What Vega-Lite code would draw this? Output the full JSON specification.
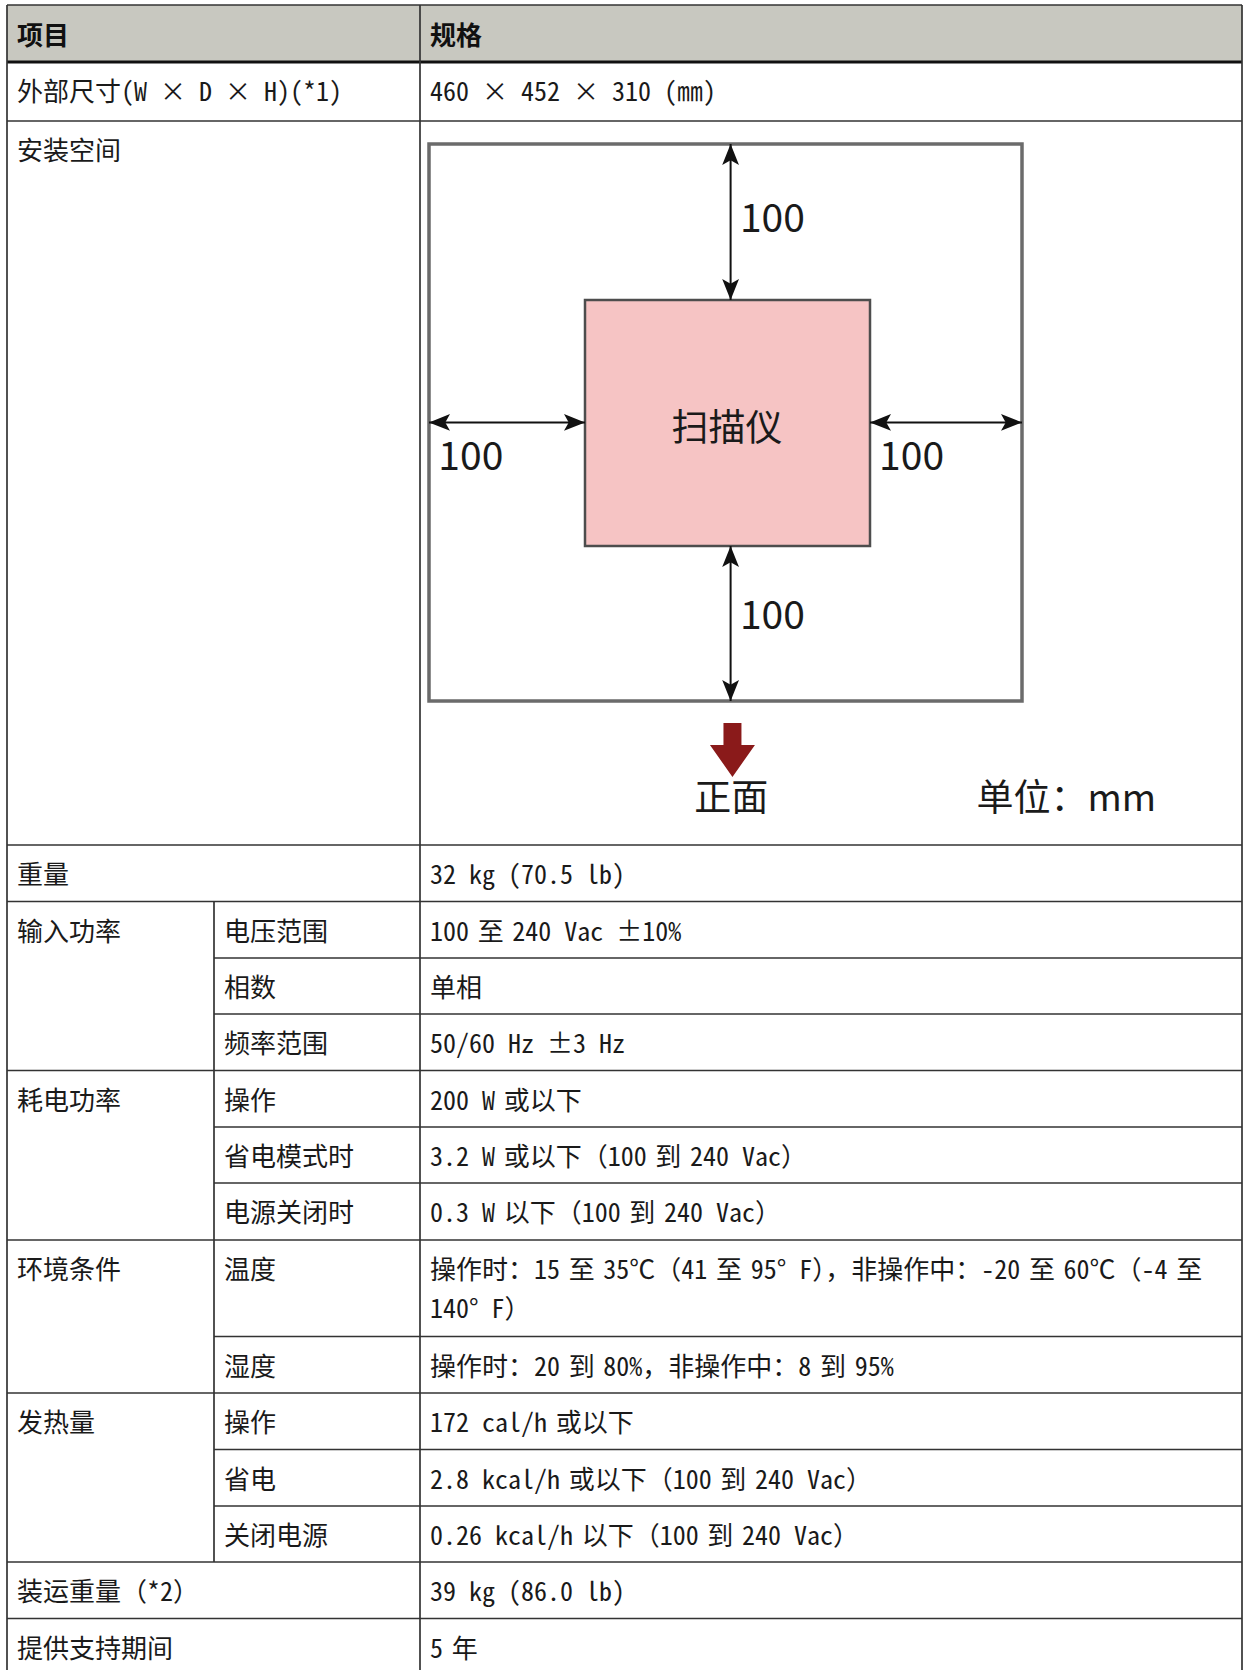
{
  "$schema": "https://vega.github.io/schema/vega-lite/v6.json",
  "width": 1245,
  "height": 1670,
  "autosize": {"type": "none"},
  "padding": 0,
  "background": "white",
  "config": {"view": {"stroke": null}, "text": {"font": "Noto Sans CJK SC"}},
  "datasets": {
    "cells": [
      {"r": 0, "c": 0, "kind": "header", "text": "项目"},
      {"r": 0, "c": 2, "kind": "header", "text": "规格"},
      {"r": 1, "c": 0, "kind": "body", "text": "外部尺寸(W × D × H)(*1)"},
      {"r": 1, "c": 2, "kind": "body", "text": "460 × 452 × 310 (㎜)"},
      {"r": 2, "c": 0, "kind": "body", "text": "安装空间"},
      {"r": 3, "c": 0, "kind": "body", "text": "重量"},
      {"r": 3, "c": 2, "kind": "body", "text": "32 kg (70.5 lb)"},
      {"r": 4, "c": 0, "kind": "body", "text": "输入功率"},
      {"r": 4, "c": 1, "kind": "body", "text": "电压范围"},
      {"r": 4, "c": 2, "kind": "body", "text": "100\u2004至\u2004240 Vac ±10%"},
      {"r": 5, "c": 1, "kind": "body", "text": "相数"},
      {"r": 5, "c": 2, "kind": "body", "text": "单相"},
      {"r": 6, "c": 1, "kind": "body", "text": "频率范围"},
      {"r": 6, "c": 2, "kind": "body", "text": "50/60 Hz ±3 Hz"},
      {"r": 7, "c": 0, "kind": "body", "text": "耗电功率"},
      {"r": 7, "c": 1, "kind": "body", "text": "操作"},
      {"r": 7, "c": 2, "kind": "body", "text": "200 W\u2004或以下"},
      {"r": 8, "c": 1, "kind": "body", "text": "省电模式时"},
      {"r": 8, "c": 2, "kind": "body", "text": "3.2 W\u2004或以下（100\u2004到\u2004240 Vac）"},
      {"r": 9, "c": 1, "kind": "body", "text": "电源关闭时"},
      {"r": 9, "c": 2, "kind": "body", "text": "0.3 W\u2004以下（100\u2004到\u2004240 Vac）"},
      {"r": 10, "c": 0, "kind": "body", "text": "环境条件"},
      {"r": 10, "c": 1, "kind": "body", "text": "温度"},
      {"r": 10, "c": 2, "kind": "body", "text": "操作时：15\u2004至\u200435℃（41\u2004至\u200495° F），非操作中：-20\u2004至\u200460℃（-4\u2004至\n140° F）"},
      {"r": 11, "c": 1, "kind": "body", "text": "湿度"},
      {"r": 11, "c": 2, "kind": "body", "text": "操作时：20\u2004到\u200480%，非操作中：8\u2004到\u200495%"},
      {"r": 12, "c": 0, "kind": "body", "text": "发热量"},
      {"r": 12, "c": 1, "kind": "body", "text": "操作"},
      {"r": 12, "c": 2, "kind": "body", "text": "172 cal/h\u2004或以下"},
      {"r": 13, "c": 1, "kind": "body", "text": "省电"},
      {"r": 13, "c": 2, "kind": "body", "text": "2.8 kcal/h\u2004或以下（100\u2004到\u2004240 Vac）"},
      {"r": 14, "c": 1, "kind": "body", "text": "关闭电源"},
      {"r": 14, "c": 2, "kind": "body", "text": "0.26 kcal/h\u2004以下（100\u2004到\u2004240 Vac）"},
      {"r": 15, "c": 0, "kind": "body", "text": "装运重量（*2）"},
      {"r": 15, "c": 2, "kind": "body", "text": "39 kg (86.0 lb)"},
      {"r": 16, "c": 0, "kind": "body", "text": "提供支持期间"},
      {"r": 16, "c": 2, "kind": "body", "text": "5\u2004年"}
    ],
    "hlines": [
      {"r": 0, "c0": 0, "c1": 3},
      {"r": 1, "c0": 0, "c1": 3},
      {"r": 2, "c0": 0, "c1": 3},
      {"r": 3, "c0": 0, "c1": 3},
      {"r": 4, "c0": 0, "c1": 3},
      {"r": 5, "c0": 1, "c1": 3},
      {"r": 6, "c0": 1, "c1": 3},
      {"r": 7, "c0": 0, "c1": 3},
      {"r": 8, "c0": 1, "c1": 3},
      {"r": 9, "c0": 1, "c1": 3},
      {"r": 10, "c0": 0, "c1": 3},
      {"r": 11, "c0": 1, "c1": 3},
      {"r": 12, "c0": 0, "c1": 3},
      {"r": 13, "c0": 1, "c1": 3},
      {"r": 14, "c0": 1, "c1": 3},
      {"r": 15, "c0": 0, "c1": 3},
      {"r": 16, "c0": 0, "c1": 3}
    ],
    "vlines": [
      {"c": 0, "r0": 0, "r1": 17},
      {"c": 1, "r0": 4, "r1": 15},
      {"c": 2, "r0": 0, "r1": 17},
      {"c": 3, "r0": 0, "r1": 17}
    ],
    "boxes": [
      {"part": "space", "x0": 0, "x1": 660, "y0": 0, "y1": 652},
      {"part": "scanner", "x0": 100, "x1": 560, "y0": 100, "y1": 552}
    ],
    "shafts": [
      {"x0": 335, "x1": 335, "y0": 0, "y1": 100},
      {"x0": 335, "x1": 335, "y0": 552, "y1": 652},
      {"x0": 0, "x1": 100, "y0": 325, "y1": 325},
      {"x0": 560, "x1": 660, "y0": 325, "y1": 325}
    ],
    "heads": [
      {"x": 335, "y": 0, "dir": "up"},
      {"x": 335, "y": 100, "dir": "down"},
      {"x": 335, "y": 552, "dir": "up"},
      {"x": 335, "y": 652, "dir": "down"},
      {"x": 0, "y": 325, "dir": "left"},
      {"x": 100, "y": 325, "dir": "right"},
      {"x": 560, "y": 325, "dir": "left"},
      {"x": 660, "y": 325, "dir": "right"}
    ],
    "labels": [
      {"x": 350, "y": 47, "role": "dimension", "text": "100"},
      {"x": 350, "y": 596, "role": "dimension", "text": "100"},
      {"x": 6, "y": 385, "role": "dimension", "text": "100"},
      {"x": 566, "y": 385, "role": "dimension", "text": "100"},
      {"x": 630, "y": 714, "role": "unit", "text": "单位：mm"},
      {"x": 329, "y": 333, "role": "name", "text": "扫描仪"},
      {"x": 336, "y": 714, "role": "front", "text": "正面"}
    ],
    "front": [
      {"x": 338, "y": 701, "dir": "down"}
    ]
  },
  "layer": [
    {
      "layer": [
        {
          "data": {"values": [{"c0": 0, "c1": 3, "r0": 0, "r1": 1}]},
          "mark": {"type": "rect", "fill": "#c8c8c0"},
          "encoding": {
            "x": {"field": "c0", "type": "quantitative", "axis": null, "scale": {"domain": [0, 1, 2, 3], "range": [7, 214, 420, 1242], "zero": false, "nice": false}},
            "x2": {"field": "c1"},
            "y": {"field": "r0", "type": "quantitative", "axis": null, "scale": {"domain": [0, 1, 2, 3, 4, 5, 6, 7, 8, 9, 10, 11, 12, 13, 14, 15, 16, 17], "range": [5, 62, 121, 845, 901.5, 958, 1014, 1070.5, 1127, 1183, 1240, 1336.5, 1393, 1449.5, 1506, 1562, 1618.5, 1675], "zero": false, "nice": false}},
            "y2": {"field": "r1"}
          }
        },
        {
          "data": {"name": "hlines"},
          "transform": [{"filter": "datum.r != 1"}],
          "mark": {"type": "rule", "stroke": "#333333", "strokeWidth": 1.7},
          "encoding": {
            "x": {"field": "c0", "type": "quantitative", "axis": null},
            "x2": {"field": "c1"},
            "y": {"field": "r", "type": "quantitative", "axis": null}
          }
        },
        {
          "data": {"name": "hlines"},
          "transform": [{"filter": "datum.r == 1"}],
          "mark": {"type": "rule", "stroke": "#111111", "strokeWidth": 3},
          "encoding": {
            "x": {"field": "c0", "type": "quantitative", "axis": null},
            "x2": {"field": "c1"},
            "y": {"field": "r", "type": "quantitative", "axis": null}
          }
        },
        {
          "data": {"name": "vlines"},
          "mark": {"type": "rule", "stroke": "#333333", "strokeWidth": 1.7},
          "encoding": {
            "x": {"field": "c", "type": "quantitative", "axis": null},
            "y": {"field": "r0", "type": "quantitative", "axis": null},
            "y2": {"field": "r1"}
          }
        },
        {
          "data": {"name": "cells"},
          "transform": [{"filter": "datum.kind == 'header'"}],
          "mark": {"type": "text", "align": "left", "baseline": "top", "dx": 10, "dy": 19, "fontSize": 26, "fontWeight": "bold", "font": "Noto Sans Mono CJK SC, Noto Sans CJK SC", "color": "#111111"},
          "encoding": {
            "x": {"field": "c", "type": "quantitative", "axis": null},
            "y": {"field": "r", "type": "quantitative", "axis": null},
            "text": {"field": "text", "type": "nominal"}
          }
        },
        {
          "data": {"name": "cells"},
          "transform": [{"filter": "datum.kind == 'body'"}],
          "mark": {"type": "text", "align": "left", "baseline": "top", "dx": 10, "dy": 18, "fontSize": 26, "font": "Noto Sans Mono CJK SC, Noto Sans CJK SC", "lineBreak": "\n", "lineHeight": 39, "color": "#1a1a1a"},
          "encoding": {
            "x": {"field": "c", "type": "quantitative", "axis": null},
            "y": {"field": "r", "type": "quantitative", "axis": null},
            "text": {"field": "text", "type": "nominal"}
          }
        }
      ]
    },
    {
      "layer": [
        {
          "data": {"name": "boxes"},
          "transform": [{"filter": "datum.part == 'space'"}],
          "mark": {"type": "rect", "fill": "white", "stroke": "#6b6b6b", "strokeWidth": 3.5},
          "encoding": {
            "x": {"field": "x0", "type": "quantitative", "axis": null, "scale": {"domain": [0, 100, 560, 660], "range": [429, 585, 870, 1022], "zero": false, "nice": false}},
            "x2": {"field": "x1"},
            "y": {"field": "y0", "type": "quantitative", "axis": null, "scale": {"domain": [0, 100, 552, 652], "range": [144, 300, 546, 701], "zero": false, "nice": false}},
            "y2": {"field": "y1"}
          }
        },
        {
          "data": {"name": "boxes"},
          "transform": [{"filter": "datum.part == 'scanner'"}],
          "mark": {"type": "rect", "fill": "#f6c4c4", "stroke": "#4d4d4d", "strokeWidth": 2.5},
          "encoding": {
            "x": {"field": "x0", "type": "quantitative", "axis": null},
            "x2": {"field": "x1"},
            "y": {"field": "y0", "type": "quantitative", "axis": null},
            "y2": {"field": "y1"}
          }
        },
        {
          "data": {"name": "shafts"},
          "mark": {"type": "rule", "stroke": "#111111", "strokeWidth": 2},
          "encoding": {
            "x": {"field": "x0", "type": "quantitative", "axis": null},
            "x2": {"field": "x1"},
            "y": {"field": "y0", "type": "quantitative", "axis": null},
            "y2": {"field": "y1"}
          }
        },
        {
          "data": {"name": "heads"},
          "transform": [{"filter": "datum.dir == 'up'"}],
          "mark": {"type": "point", "shape": "M0,0L-0.8,2L0,1.55L0.8,2Z", "angle": 0, "filled": true, "fill": "#111111", "opacity": 1, "size": 441, "strokeWidth": 0},
          "encoding": {
            "x": {"field": "x", "type": "quantitative", "axis": null},
            "y": {"field": "y", "type": "quantitative", "axis": null}
          }
        },
        {
          "data": {"name": "heads"},
          "transform": [{"filter": "datum.dir == 'right'"}],
          "mark": {"type": "point", "shape": "M0,0L-0.8,2L0,1.55L0.8,2Z", "angle": 90, "filled": true, "fill": "#111111", "opacity": 1, "size": 441, "strokeWidth": 0},
          "encoding": {
            "x": {"field": "x", "type": "quantitative", "axis": null},
            "y": {"field": "y", "type": "quantitative", "axis": null}
          }
        },
        {
          "data": {"name": "heads"},
          "transform": [{"filter": "datum.dir == 'down'"}],
          "mark": {"type": "point", "shape": "M0,0L-0.8,2L0,1.55L0.8,2Z", "angle": 180, "filled": true, "fill": "#111111", "opacity": 1, "size": 441, "strokeWidth": 0},
          "encoding": {
            "x": {"field": "x", "type": "quantitative", "axis": null},
            "y": {"field": "y", "type": "quantitative", "axis": null}
          }
        },
        {
          "data": {"name": "heads"},
          "transform": [{"filter": "datum.dir == 'left'"}],
          "mark": {"type": "point", "shape": "M0,0L-0.8,2L0,1.55L0.8,2Z", "angle": 270, "filled": true, "fill": "#111111", "opacity": 1, "size": 441, "strokeWidth": 0},
          "encoding": {
            "x": {"field": "x", "type": "quantitative", "axis": null},
            "y": {"field": "y", "type": "quantitative", "axis": null}
          }
        },
        {
          "data": {"name": "front"},
          "mark": {"type": "point", "shape": "M0,0L-0.833,-1.185L-0.333,-1.185L-0.333,-2L0.333,-2L0.333,-1.185L0.833,-1.185Z", "filled": true, "fill": "#8a1a1a", "opacity": 1, "size": 2916, "strokeWidth": 0},
          "encoding": {
            "x": {"field": "x", "type": "quantitative", "axis": null},
            "y": {"field": "y", "type": "quantitative", "axis": null}
          }
        },
        {
          "data": {"name": "labels"},
          "transform": [{"filter": "datum.role == 'dimension'"}],
          "mark": {"type": "text", "align": "left", "baseline": "middle", "dy": 3, "fontSize": 39, "color": "#1a1a1a"},
          "encoding": {
            "x": {"field": "x", "type": "quantitative", "axis": null},
            "y": {"field": "y", "type": "quantitative", "axis": null},
            "text": {"field": "text", "type": "nominal"}
          }
        },
        {
          "data": {"name": "labels"},
          "transform": [{"filter": "datum.role == 'unit'"}],
          "mark": {"type": "text", "align": "left", "baseline": "middle", "dy": 3, "fontSize": 37, "color": "#1a1a1a"},
          "encoding": {
            "x": {"field": "x", "type": "quantitative", "axis": null},
            "y": {"field": "y", "type": "quantitative", "axis": null},
            "text": {"field": "text", "type": "nominal"}
          }
        },
        {
          "data": {"name": "labels"},
          "transform": [{"filter": "datum.role == 'name' || datum.role == 'front'"}],
          "mark": {"type": "text", "align": "center", "baseline": "middle", "dy": 3, "fontSize": 37, "color": "#1a1a1a"},
          "encoding": {
            "x": {"field": "x", "type": "quantitative", "axis": null},
            "y": {"field": "y", "type": "quantitative", "axis": null},
            "text": {"field": "text", "type": "nominal"}
          }
        }
      ]
    }
  ],
  "resolve": {"scale": {"x": "independent", "y": "independent"}}
}
